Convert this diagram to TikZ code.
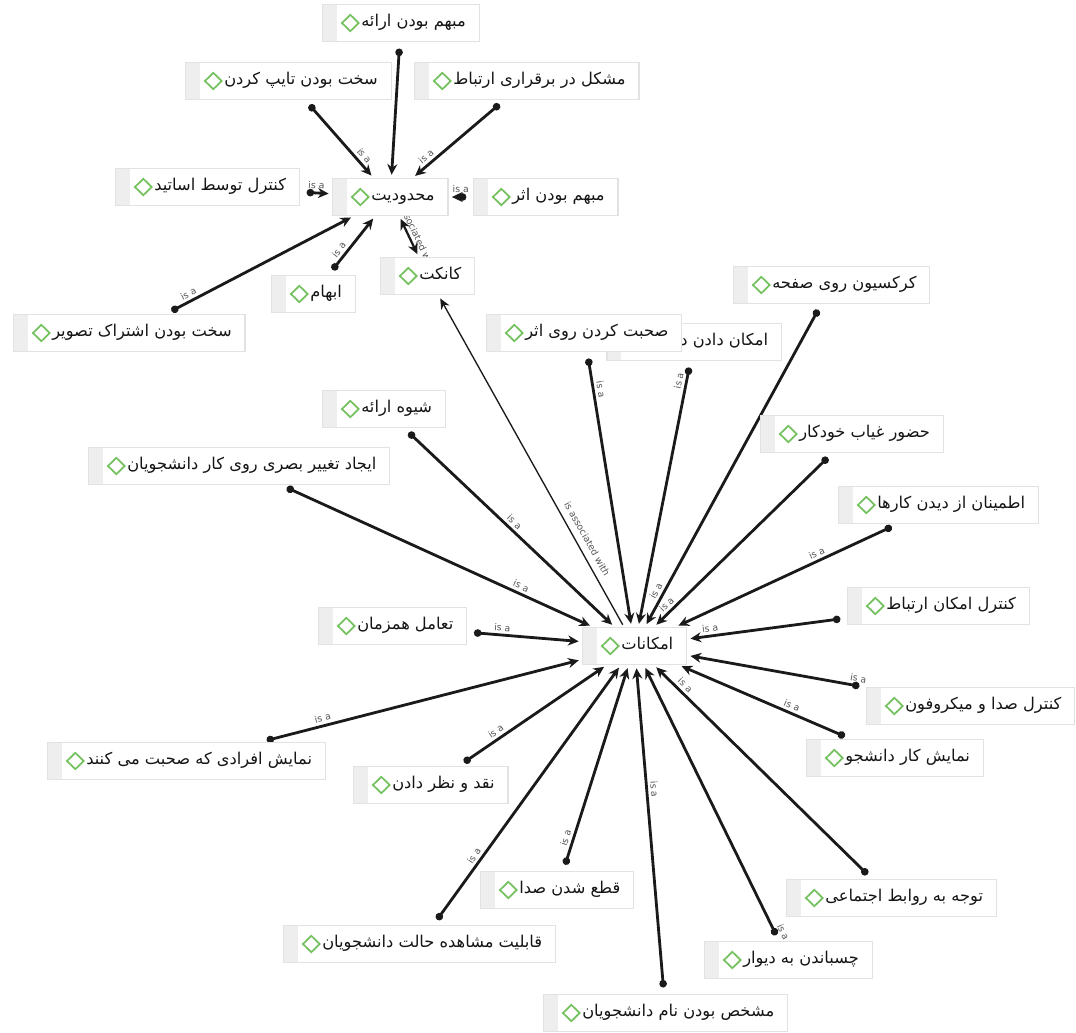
\documentclass[tikz,border=0pt]{standalone}
\usepackage{fontspec}
\newfontfamily\fa[Script=Arabic]{DejaVu Sans}
\newfontfamily\lab{DejaVu Sans}
\TeXXeTstate=1
\usetikzlibrary{arrows.meta,backgrounds}
\definecolor{boxc}{HTML}{E2E2E2}
\definecolor{tabc}{HTML}{EEEEEE}
\definecolor{diac}{HTML}{74C15F}
\definecolor{txtc}{HTML}{151515}
\definecolor{edgec}{HTML}{1A1A1A}
\definecolor{labc}{HTML}{555555}
\newcommand\codetxt[1]{\hspace*{29pt}\beginR#1\endR\hspace*{10pt}}
\begin{document}
\begin{tikzpicture}[x=0.75pt,y=-0.75pt,
  code/.style={draw=boxc, fill=white, line width=0.9pt, minimum height=27.5pt,
    inner xsep=0pt, inner ysep=0pt, text height=8.5pt, text depth=3pt,
    anchor=west, text=txtc, font=\fa\fontsize{12.2}{14}\selectfont,
    path picture={
      \fill[tabc] (path picture bounding box.north west) rectangle
        ([xshift=10.5pt]path picture bounding box.south west);
      \draw[diac, line width=1.3pt] ([xshift=14.5pt]path picture bounding box.west)
        -- ++(6.3pt,6.1pt) -- ++(6.3pt,-6.1pt) -- ++(-6.3pt,-6.1pt) -- cycle;
    }},
  isa/.style={draw=edgec, line width=2.1pt,
    {Circle[length=5.6pt]}-{Stealth[length=8pt,width=7.5pt]},
    shorten <=5pt, shorten >=2.5pt},
  lbl/.style={font=\lab\fontsize{7}{8}\selectfont, text=labc, sloped, inner sep=2pt},
  assoc/.style={draw=edgec, line width=1.7pt,
    {Stealth[length=8pt,width=7.5pt]}-{Stealth[length=8pt,width=7.5pt]},
    shorten <=2.5pt, shorten >=2.5pt},
  thinassoc/.style={draw=edgec, line width=1pt, -{Stealth[length=8pt,width=7pt]},
    shorten <=2pt, shorten >=3pt}
]
\useasboundingbox (0,0) rectangle (1076,1033);

% ---- top cluster
\node[code] (A1) at (322,23) {\codetxt{مبهم بودن ارائه}};
\node[code] (A2) at (185,81) {\codetxt{سخت بودن تایپ کردن}};
\node[code] (A3) at (414,81) {\codetxt{مشکل در برقراری ارتباط}};
\node[code] (A4) at (115,187) {\codetxt{کنترل توسط اساتید}};
\node[code] (H1) at (332,197) {\codetxt{محدودیت}};
\node[code] (A6) at (473,197) {\codetxt{مبهم بودن اثر}};
\node[code] (A7) at (380,276) {\codetxt{کانکت}};
\node[code] (A8) at (271,294) {\codetxt{ابهام}};
\node[code] (A9) at (13,333) {\codetxt{سخت بودن اشتراک تصویر}};

% ---- lower cluster
\node[code] (H2) at (582,646) {\codetxt{امکانات}};
\node[code] (B1) at (733,285) {\codetxt{کرکسیون روی صفحه}};
\node[code,anchor=east] (B3) at (782,342) {\hspace*{55pt}\beginR امکان دادن د\endR\hspace*{10pt}};
\node[code] (B2) at (486,333) {\codetxt{صحبت کردن روی اثر}};
\node[code] (B4) at (322,409) {\codetxt{شیوه ارائه}};
\node[code] (B5) at (88,466) {\codetxt{ایجاد تغییر بصری روی کار دانشجویان}};
\node[code] (B6) at (760,434) {\codetxt{حضور غیاب خودکار}};
\node[code] (B7) at (838,505) {\codetxt{اطمینان از دیدن کارها}};
\node[code] (B8) at (847,606) {\codetxt{کنترل امکان ارتباط}};
\node[code] (B9) at (318,626) {\codetxt{تعامل همزمان}};
\node[code] (B10) at (866,706) {\codetxt{کنترل صدا و میکروفون}};
\node[code] (B11) at (47,761) {\codetxt{نمایش افرادی که صحبت می کنند}};
\node[code] (B12) at (353,785) {\codetxt{نقد و نظر دادن}};
\node[code] (B13) at (806,758) {\codetxt{نمایش کار دانشجو}};
\node[code] (B14) at (480,890) {\codetxt{قطع شدن صدا}};
\node[code] (B15) at (786,898) {\codetxt{توجه به روابط اجتماعی}};
\node[code] (B16) at (283,944) {\codetxt{قابلیت مشاهده حالت دانشجویان}};
\node[code] (B17) at (704,960) {\codetxt{چسباندن به دیوار}};
\node[code] (B18) at (543,1013) {\codetxt{مشخص بودن نام دانشجویان}};

\begin{scope}[on background layer]
\fill[white] (0,0) rectangle (1076,1033);
% top cluster
\draw[isa] (A1) -- (H1);
\draw[isa] (A2) -- node[lbl,pos=0.78,above]{is a} (H1);
\draw[isa] (A3) -- node[lbl,pos=0.8,above]{is a} (H1);
\draw[isa] (A4) -- node[lbl,pos=0.5,above]{is a} (H1);
\draw[isa] (A6) -- node[lbl,pos=0.5,above]{is a} (H1);
\draw[isa] (A8) -- node[lbl,pos=0.35,above]{is a} (H1);
\draw[isa] (A9) -- node[lbl,pos=0.14,above]{is a} (H1);
\draw[assoc] (H1) -- node[lbl,pos=0.5,above]{is associated with} (A7);
% lower cluster
\draw[thinassoc] (H2) -- node[lbl,pos=0.25,above=3pt]{is associated with} (A7);
\draw[isa] (B1) -- node[lbl,pos=0.9,above]{is a} (H2);
\draw[isa] (B2) -- node[lbl,pos=0.14,above]{is a} (H2);
\draw[isa] (B3) -- node[lbl,pos=0.08,above]{is a} (H2);
\draw[isa] (B4) -- node[lbl,pos=0.5,above]{is a} (H2);
\draw[isa] (B5) -- node[lbl,pos=0.76,above]{is a} (H2);
\draw[isa] (B6) -- node[lbl,pos=0.9,above]{is a} (H2);
\draw[isa] (B7) -- node[lbl,pos=0.35,above]{is a} (H2);
\draw[isa] (B8) -- node[lbl,pos=0.85,above]{is a} (H2);
\draw[isa] (B9) -- node[lbl,pos=0.3,above]{is a} (H2);
\draw[isa] (B10) -- node[lbl,pos=0.05,above]{is a} (H2);
\draw[isa] (B11) -- node[lbl,pos=0.2,above]{is a} (H2);
\draw[isa] (B12) -- node[lbl,pos=0.28,above]{is a} (H2);
\draw[isa] (B13) -- node[lbl,pos=0.36,above]{is a} (H2);
\draw[isa] (B14) -- node[lbl,pos=0.15,above]{is a} (H2);
\draw[isa] (B15) -- node[lbl,pos=0.88,above]{is a} (H2);
\draw[isa] (B16) -- node[lbl,pos=0.25,above]{is a} (H2);
\draw[isa] (B17) -- node[lbl,pos=0.02,above]{is a} (H2);
\draw[isa] (B18) -- node[lbl,pos=0.62,above]{is a} (H2);
\end{scope}
\end{tikzpicture}
\end{document}
